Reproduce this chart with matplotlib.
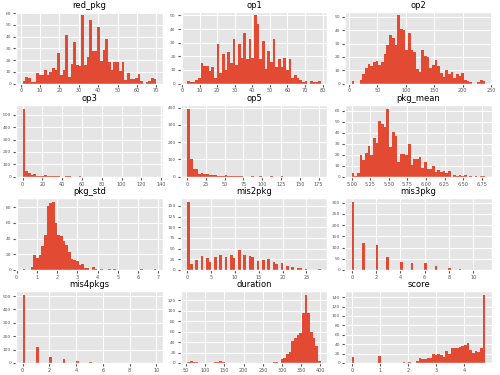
import numpy as np
import matplotlib
matplotlib.use("Agg")
import matplotlib.pyplot as plt

plt.style.use("ggplot")

# continuous columns: (min, max) of the data and the 50 bin counts
red_pkg_range = (1, 70)
red_pkg_counts = [2, 6, 5, 1, 1, 9, 7, 7, 12, 7,
                  10, 13, 12, 26, 7, 12, 41, 6, 17, 35,
                  16, 15, 58, 16, 23, 54, 28, 28, 48, 19,
                  29, 38, 18, 12, 18, 18, 11, 18, 3, 9,
                  4, 4, 5, 8, 2, 0, 1, 2, 5, 4]

op1_range = (3, 79)
op1_counts = [2, 1, 1, 3, 4, 15, 13, 13, 9, 12,
              4, 29, 8, 22, 10, 23, 15, 33, 14, 29,
              19, 37, 18, 33, 19, 50, 44, 18, 31, 11,
              24, 16, 33, 12, 18, 12, 19, 10, 18, 4,
              6, 4, 3, 1, 2, 0, 2, 1, 1, 2]

op2_range = (5, 240)
op2_counts = [2, 0, 0, 3, 7, 12, 15, 13, 16, 17,
              14, 16, 22, 29, 36, 34, 29, 51, 41, 40,
              25, 38, 25, 24, 11, 9, 25, 21, 20, 12,
              14, 18, 13, 8, 5, 10, 7, 9, 4, 7,
              6, 8, 3, 2, 1, 0, 0, 1, 3, 2]

op3_range = (0, 135)
op3_counts = [550, 45, 28, 18, 20, 10, 7, 8, 12, 5,
              10, 8, 6, 4, 2, 2, 3, 3, 2, 2,
              2, 3, 2, 1, 1, 2, 1, 0, 2, 0,
              0, 0, 0, 0, 0, 1, 1, 0, 0, 0,
              0, 0, 0, 0, 0, 0, 0, 0, 0, 2]

op5_range = (0, 178)
op5_counts = [395, 105, 47, 47, 15, 20, 18, 15, 10, 10,
              8, 4, 5, 4, 8, 5, 3, 4, 3, 2,
              2, 1, 1, 0, 2, 1, 0, 2, 1, 1,
              0, 3, 1, 0, 1, 2, 0, 1, 0, 0,
              0, 1, 0, 1, 0, 0, 0, 1, 0, 1]

pkg_mean_range = (5.0, 6.8)
pkg_mean_counts = [3, 1, 3, 20, 15, 22, 28, 20, 35, 31,
                   51, 48, 45, 62, 27, 41, 37, 13, 21, 21,
                   20, 30, 11, 16, 16, 18, 8, 13, 7, 7,
                   10, 4, 6, 4, 5, 3, 5, 0, 2, 1,
                   2, 1, 2, 0, 1, 0, 1, 0, 1, 1]

pkg_std_range = (0.3, 6.9)
pkg_std_counts = [1, 0, 0, 4, 19, 15, 19, 30, 45, 81,
                  85, 87, 60, 45, 43, 37, 32, 23, 14, 13,
                  11, 6, 7, 3, 3, 0, 4, 1, 0, 1,
                  0, 0, 1, 0, 1, 0, 0, 0, 0, 0,
                  0, 0, 0, 0, 1, 0, 0, 0, 0, 1]

duration_range = (53, 401)
duration_counts = [2, 4, 1, 1, 0, 0, 0, 0, 0, 0,
                   2, 1, 3, 1, 0, 0, 0, 0, 0, 0,
                   0, 0, 0, 0, 0, 0, 0, 0, 0, 0,
                   0, 0, 1, 2, 0, 8, 9, 18, 21, 41,
                   48, 53, 57, 95, 130, 96, 60, 47, 32, 3]

score_range = (0, 4.74)
score_counts = [12, 0, 0, 0, 0, 0, 0, 0, 0, 0,
                14, 1, 1, 1, 1, 1, 1, 0, 0, 3,
                0, 3, 1, 1, 5, 11, 8, 8, 11, 11,
                20, 16, 20, 18, 13, 26, 20, 31, 32, 32,
                33, 36, 39, 43, 28, 21, 26, 23, 32, 145]

# integer columns: value -> count
mis2pkg_values = list(range(29))
mis2pkg_counts = [160, 13, 23, 32, 27, 18, 30, 35, 31, 35, 29, 46, 35, 33, 30,
                  21, 23, 26, 19, 14, 16, 10, 7, 5, 5, 2, 0, 0, 1]

mis3pkg_values = list(range(12))
mis3pkg_counts = [305, 122, 113, 58, 36, 31, 29, 18, 7, 5, 1, 1]

mis4pkgs_values = list(range(11))
mis4pkgs_counts = [510, 122, 43, 27, 12, 4, 3, 3, 0, 0, 1]

fig, axes = plt.subplots(4, 3, figsize=(5, 3.75), dpi=100)
fig.subplots_adjust(left=0.032, right=0.984, top=0.968, bottom=0.032,
                    wspace=0.12, hspace=0.3)

binned = {
    "red_pkg": (red_pkg_range, red_pkg_counts),
    "op1": (op1_range, op1_counts),
    "op2": (op2_range, op2_counts),
    "op3": (op3_range, op3_counts),
    "op5": (op5_range, op5_counts),
    "pkg_mean": (pkg_mean_range, pkg_mean_counts),
    "pkg_std": (pkg_std_range, pkg_std_counts),
    "duration": (duration_range, duration_counts),
    "score": (score_range, score_counts),
}
discrete = {
    "mis2pkg": (mis2pkg_values, mis2pkg_counts),
    "mis3pkg": (mis3pkg_values, mis3pkg_counts),
    "mis4pkgs": (mis4pkgs_values, mis4pkgs_counts),
}
order = ["red_pkg", "op1", "op2", "op3", "op5", "pkg_mean",
         "pkg_std", "mis2pkg", "mis3pkg", "mis4pkgs", "duration", "score"]

for ax, name in zip(axes.flat, order):
    if name in binned:
        (lo, hi), counts = binned[name]
        edges = np.linspace(lo, hi, 51)
        ax.hist(edges[:-1], bins=edges, weights=counts, color="#E24A33")
    else:
        vals, counts = discrete[name]
        ax.hist(vals, bins=50, weights=counts, color="#E24A33")
    ax.set_title(name, fontsize=6, pad=3)
    ax.tick_params(axis="x", labelsize=3.5, length=2, pad=1.5)
    ax.tick_params(axis="y", labelsize=3.2, length=2, pad=1.5)
    ax.grid(True)

fig.savefig("out.png", dpi=100)
